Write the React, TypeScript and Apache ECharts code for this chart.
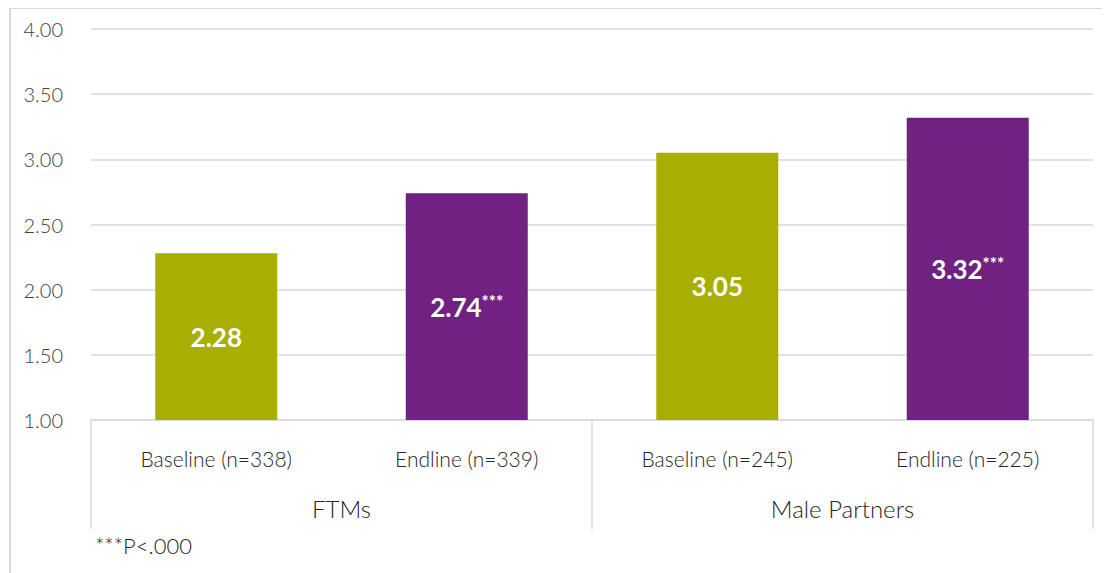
import React, { useEffect, useRef } from "react";
import * as echarts from "echarts";

const categories = ["Baseline (n=338)", "Endline (n=339)", "Baseline (n=245)", "Endline (n=225)"];
const groups = ["FTMs", "Male Partners"];
const values = [2.28, 2.74, 3.05, 3.32];
const stars = ["", "***", "", "***"];
const barColors = ["#A9AF00", "#6F2282", "#A9AF00", "#6F2282"];
const yTicks = { min: 1, max: 4, interval: 0.5 };
const footnote = "***P<.000";

export default function App() {
  const ref = useRef<HTMLDivElement>(null);
  useEffect(() => {
    if (!ref.current) return;
    const chart = echarts.init(ref.current, undefined, { renderer: "svg" });
    const light = "'Lato Light', Lato, 'Noto Sans', sans-serif";
    const bold = "Lato, 'Noto Sans', sans-serif";
    chart.setOption({
      animation: false,
      grid: { left: 83, top: 21, width: 1002, height: 391 },
      xAxis: [
        {
          type: "category",
          data: categories,
          position: "bottom",
          axisLine: { show: true, lineStyle: { color: "#d9d9d9", width: 1.5 } },
          axisTick: { show: false },
          axisLabel: { margin: 28, fontSize: 21, fontWeight: 300, color: "#262626", fontFamily: light },
        },
        {
          type: "category",
          data: groups,
          position: "bottom",
          gridIndex: 0,
          axisLine: { show: false },
          axisTick: { show: true, length: 109, lineStyle: { color: "#d9d9d9", width: 1.5 } },
          axisLabel: { margin: 76, fontSize: 24, fontWeight: 300, color: "#262626", fontFamily: light },
        },
      ],
      yAxis: {
        type: "value",
        min: yTicks.min,
        max: yTicks.max,
        interval: yTicks.interval,
        axisLine: { show: false },
        axisTick: { show: false },
        splitLine: { lineStyle: { color: "#d9d9d9", width: 1.5 } },
        axisLabel: {
          margin: 28,
          fontSize: 20,
          fontWeight: 300,
          color: "#404040",
          fontFamily: light,
          formatter: (v: number) => v.toFixed(2),
        },
      },
      series: [
        {
          type: "bar",
          xAxisIndex: 0,
          barWidth: 122,
          data: values.map((v, i) => ({ value: v, itemStyle: { color: barColors[i] } })),
          label: {
            show: true,
            position: "inside",
            formatter: (p: any) => `{v|${p.value.toFixed(2)}}` + (stars[p.dataIndex] ? `{s|${stars[p.dataIndex]}}` : ""),
            rich: {
              v: { fontSize: 26, fontWeight: "bold", color: "#ffffff", fontFamily: bold },
              s: { fontSize: 17, fontWeight: "bold", color: "#ffffff", fontFamily: bold, padding: [0, 0, 11, 0] },
            },
          },
        },
      ],
      graphic: [
        {
          type: "rect",
          shape: { x: 2, y: 0, width: 1300, height: 700 },
          style: { fill: "none", stroke: "#d9d9d9", lineWidth: 2 },
          silent: true,
          z: -1,
        },
        {
          type: "text",
          left: 87,
          top: 526,
          style: { text: footnote, fontSize: 22, fontWeight: 300, fill: "#262626", fontFamily: light },
        },
      ],
    });
    return () => chart.dispose();
  }, []);
  return <div ref={ref} style={{ width: 1102, height: 565 }} />;
}
